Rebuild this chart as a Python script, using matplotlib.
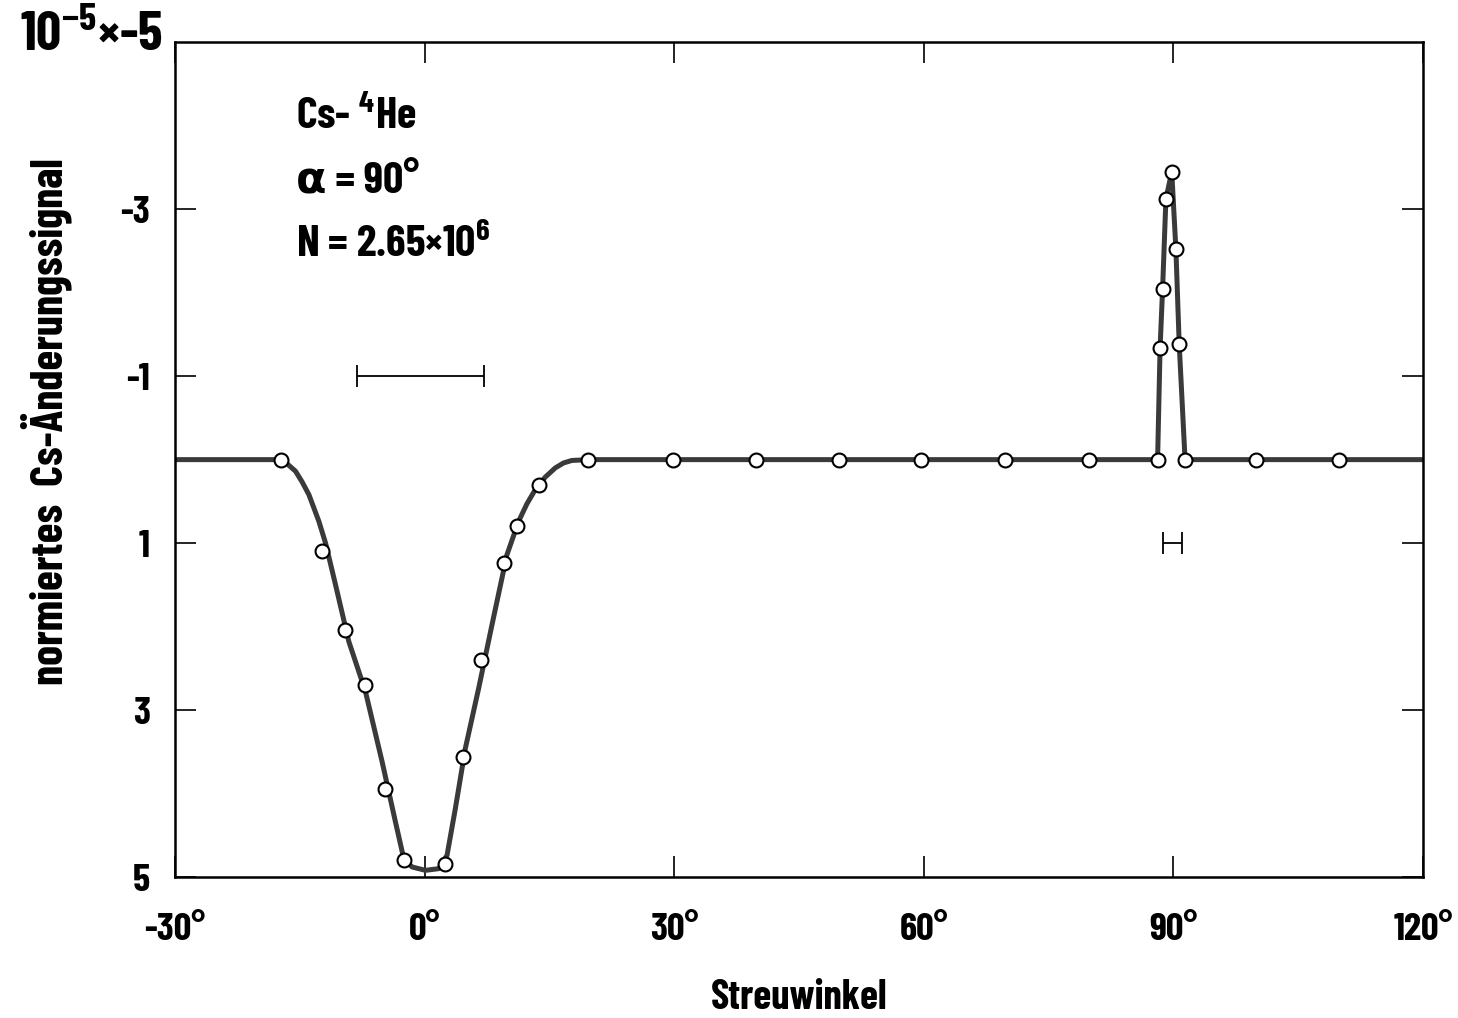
import matplotlib
matplotlib.use("Agg")
import matplotlib.pyplot as plt

plt.rcParams['font.family'] = ['Barlow Condensed', 'DejaVu Sans']
plt.rcParams['font.weight'] = 'bold'
plt.rcParams['axes.labelweight'] = 'bold'
plt.rcParams['mathtext.fontset'] = 'custom'
plt.rcParams['mathtext.rm'] = 'Barlow Condensed:bold'
plt.rcParams['mathtext.it'] = 'Barlow Condensed:bold'
plt.rcParams['mathtext.bf'] = 'Barlow Condensed:bold'

# measured points (Streuwinkel in deg, normalised signal)
meas_x = [-17.2, -12.3, -9.6, -7.2, -4.7, -2.5, 2.4, 4.6, 6.8, 9.5, 11.1, 13.7, 19.7,
          29.8, 39.8, 49.8, 59.7, 69.8, 79.8,
          88.1, 88.4, 88.7, 89.1, 89.8, 90.3, 90.7, 91.4,
          99.9, 109.9]
meas_y = [0.0, 1.10, 2.04, 2.70, 3.95, 4.80, 4.85, 3.56, 2.40, 1.24, 0.80, 0.30, 0.0,
          0.0, 0.0, 0.0, 0.0, 0.0, 0.0,
          0.0, -1.34, -2.04, -3.12, -3.45, -2.52, -1.38, 0.0,
          0.0, 0.0]

# fitted curve
curve_x = [-30, -17.2, -16.4, -15.5, -14.7, -13.9, -12.7, -11.9, -10.7, -9.1, -7.1, -5.1,
           -3.5, -2.5, -1.5, 0.1, 1.7, 2.7, 3.7, 4.9, 6.5, 8.1, 9.9, 11.3, 12.3, 13.3,
           14.5, 15.7, 16.7, 17.7, 19.7,
           88.1, 88.4, 88.7, 89.1, 89.8, 90.3, 90.7, 91.4, 120]
curve_y = [0.0, 0.0, 0.06, 0.14, 0.27, 0.42, 0.74, 1.0, 1.50, 2.18, 2.78, 3.62,
           4.34, 4.78, 4.88, 4.92, 4.90, 4.74, 4.18, 3.46, 2.74, 1.98, 1.14, 0.74, 0.53, 0.36,
           0.21, 0.10, 0.04, 0.01, 0.0,
           0.0, -1.34, -2.04, -3.12, -3.45, -2.52, -1.38, 0.0, 0.0]

# angular resolution bars
res_x = [-0.5, 89.9]
res_y = [-1.0, 1.0]
res_half = [7.6, 1.1]

fig = plt.figure(figsize=(14.58, 10.18), dpi=100)
ax = fig.add_axes([0.120, 0.1385, 0.856, 0.8200])

ax.plot(curve_x, curve_y, color='#3a3a3a', lw=3.6, zorder=2)
ax.plot(meas_x, meas_y, 'o', ms=10, mfc='white', mec='black', mew=1.5, zorder=3)
ax.errorbar(res_x, res_y, xerr=res_half, fmt='none', ecolor='black',
            elinewidth=1.3, capsize=8, capthick=1.3)

ax.set_xlim(-30, 120)
ax.set_ylim(5, -5)
ax.set_xticks([-30, 0, 30, 60, 90, 120])
ax.set_xticklabels(['-30°', '0°', '30°', '60°', '90°', '120°'])
ax.set_yticks([-3, -1, 1, 3, 5])
ax.set_yticklabels(['-3', '-1', '1', '3', '5'])
ax.tick_params(direction='in', length=15, width=1.2, labelsize=28,
               top=True, right=True)
ax.tick_params(axis='x', pad=26)
ax.tick_params(axis='y', pad=18)
for s in ax.spines.values():
    s.set_linewidth(1.8)

ax.set_xlabel('Streuwinkel', fontsize=29.5, labelpad=23)
fig.text(46 / 1458, 1 - 422 / 1018, 'normiertes  Cs-Änderungssignal', fontsize=32.5,
         rotation=90, ha='center', va='center')

ax.text(-15.4, -3.96, 'Cs- $^{4}$He', fontsize=32, va='baseline')
ax.text(-15.4, -3.20, 'α = 90°', fontsize=32, va='baseline')
ax.text(-15.4, -2.43, 'N = 2.65×10$^{6}$', fontsize=32, va='baseline')

fig.text(0.0137, 0.950, '10$^{-5}$×-5', fontsize=40, va='baseline')

fig.savefig('out.png', dpi=100)
